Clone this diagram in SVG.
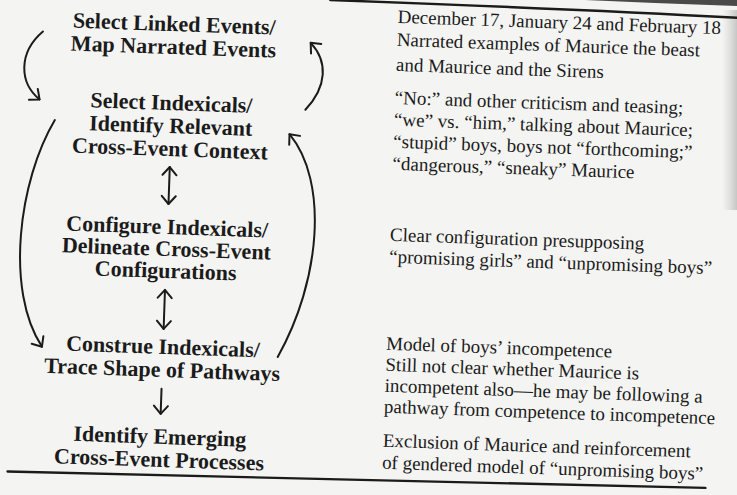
<svg xmlns="http://www.w3.org/2000/svg" width="737" height="495" viewBox="0 0 737 495">
<style>
.n{font-family:"Liberation Serif","Times New Roman",serif;font-weight:bold;font-size:22px;fill:#1b1b1b;text-anchor:middle}
.d{font-family:"Liberation Serif","Times New Roman",serif;font-size:19px;fill:#1b1b1b}
.c{fill:none;stroke:#1b1b1b;stroke-width:2;stroke-linecap:round}
.rule{fill:none;stroke:#1b1b1b;stroke-width:2.4;stroke-linecap:round}
</style>
<defs>
<marker id="ah" markerUnits="userSpaceOnUse" markerWidth="14" markerHeight="20" viewBox="-12 -10 14 20" refX="0" refY="0" orient="auto-start-reverse">
<path d="M-8,-7 L0,0 L-8,7" fill="none" stroke="#1b1b1b" stroke-width="2" stroke-linecap="round" stroke-linejoin="round"/>
</marker>
<linearGradient id="edge" x1="0" y1="0" x2="1" y2="0">
<stop offset="0" stop-color="#bdbdbd" stop-opacity="0"/>
<stop offset="1" stop-color="#a8a8a8" stop-opacity="0.6"/>
</linearGradient>
</defs>
<rect width="737" height="495" fill="#f4f4f2"/>
<rect x="722" y="10" width="15" height="200" fill="url(#edge)"/>
<path d="M585,0 L737,0 L737,6 Q660,3.5 585,0 Z" fill="#4a4a4a"/>
<g transform="rotate(2)">
 <path class="rule" d="M330,-11.5 Q600,-11 760,-7.5"/>
 <path class="rule" d="M24,471 L722,463"/>
 <g id="connectors">
  <path class="c" d="M44,30 C20,52 22,82 43,98" marker-end="url(#ah)"/>
  <path class="c" d="M59,118 C25,180 15,290 54,345" marker-end="url(#ah)"/>
  <path class="c" d="M309,99 C330,75 330,50 312,32" marker-end="url(#ah)"/>
  <path class="c" d="M290,347 C330,270 335,170 294,124" marker-end="url(#ah)"/>
  <path class="c" d="M175.5,161 V198" marker-start="url(#ah)" marker-end="url(#ah)"/>
  <path class="c" d="M175,284 V323" marker-start="url(#ah)" marker-end="url(#ah)"/>
  <path class="c" d="M175,383 V408" marker-end="url(#ah)"/>
 </g>
 <g id="step1">
  <text class="n" x="175" y="25">Select Linked Events/</text>
  <text class="n" x="175" y="48">Map Narrated Events</text>
 </g>
 <g id="step2">
  <text class="n" x="175" y="104">Select Indexicals/</text>
  <text class="n" x="175" y="127">Identify Relevant</text>
  <text class="n" x="175" y="150">Cross-Event Context</text>
 </g>
 <g id="step3">
  <text class="n" x="175" y="228">Configure Indexicals/</text>
  <text class="n" x="175" y="250">Delineate Cross-Event</text>
  <text class="n" x="175" y="272">Configurations</text>
 </g>
 <g id="step4">
  <text class="n" x="175" y="348">Construe Indexicals/</text>
  <text class="n" x="175" y="371">Trace Shape of Pathways</text>
 </g>
 <g id="step5">
  <text class="n" x="175" y="438">Identify Emerging</text>
  <text class="n" x="175" y="461">Cross-Event Processes</text>
 </g>
 <g id="note1">
  <text class="d" x="398" y="9">December 17, January 24 and February 18</text>
  <text class="d" x="398" y="32">Narrated examples of Maurice the beast</text>
  <text class="d" x="398" y="57">and Maurice and the Sirens</text>
 </g>
 <g id="note2">
  <text class="d" x="398" y="90">“No:” and other criticism and teasing;</text>
  <text class="d" x="398" y="112">“we” vs. “him,” talking about Maurice;</text>
  <text class="d" x="398" y="134">“stupid” boys, boys not “forthcoming;”</text>
  <text class="d" x="398" y="156">“dangerous,” “sneaky” Maurice</text>
 </g>
 <g id="note3">
  <text class="d" x="398" y="227">Clear configuration presupposing</text>
  <text class="d" x="398" y="249">“promising girls” and “unpromising boys”</text>
 </g>
 <g id="note4">
  <text class="d" x="398" y="336">Model of boys’ incompetence</text>
  <text class="d" x="398" y="357">Still not clear whether Maurice is</text>
  <text class="d" x="398" y="378">incompetent also—he may be following a</text>
  <text class="d" x="398" y="399">pathway from competence to incompetence</text>
 </g>
 <g id="note5">
  <text class="d" x="398" y="433">Exclusion of Maurice and reinforcement</text>
  <text class="d" x="398" y="455">of gendered model of “unpromising boys”</text>
 </g>
</g>
</svg>
